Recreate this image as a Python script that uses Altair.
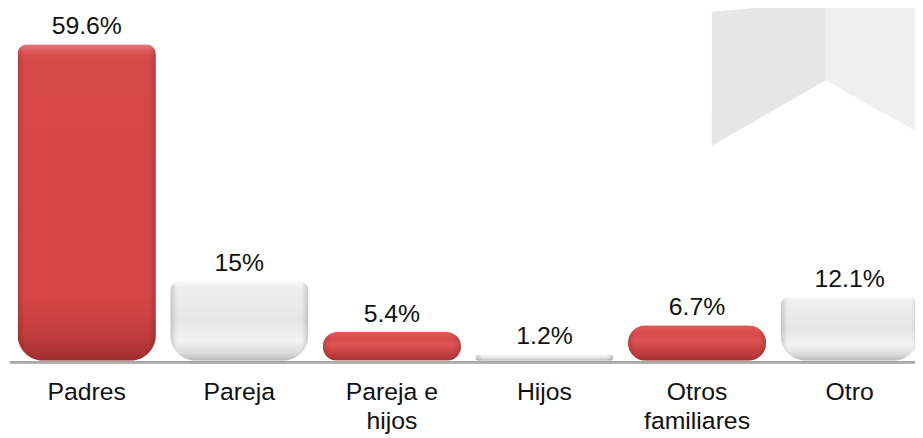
import altair as alt
import pandas as pd

categories = ["Padres", "Pareja", "Pareja e\nhijos", "Hijos", "Otros\nfamiliares", "Otro"]
values = [59.6, 15, 5.4, 1.2, 6.7, 12.1]
value_labels = ["59.6%", "15%", "5.4%", "1.2%", "6.7%", "12.1%"]
tones = ["red", "white", "red", "white", "red", "white"]

df = pd.DataFrame({"cat": categories, "value": values, "label": value_labels, "tone": tones})

# decorative watermark (background logo shape), in pixel space
wm_left = pd.DataFrame({"px": [710, 825], "top": [2, -8], "bot": [137, 71]})
wm_right = pd.DataFrame({"px": [825, 915], "top": [-8, -8], "bot": [71, 122]})

FONT = "Liberation Sans"
xs = alt.Scale(domain=categories, range=[2.5, 926], paddingInner=0.094, paddingOuter=0.047)
ys = alt.Scale(domain=[0, 60], range=[354, 32.6], nice=False, zero=True)
X = alt.X("cat:N", sort=categories, scale=xs, axis=None)
Y = alt.Y("value:Q", scale=ys, axis=None)

def grad(stops, horizontal=False):
    return alt.Gradient(
        gradient="linear",
        stops=[alt.GradientStop(color=c, offset=o) for o, c in stops],
        x1=0, y1=0,
        x2=1 if horizontal else 0,
        y2=0 if horizontal else 1,
    )

red_grad = grad([(0, "#ea7676"), (0.035, "#d84c4c"), (0.07, "#d64747"),
                 (0.8, "#d64646"), (0.92, "#c03c3c"), (1, "#9e2e2e")])
red_pill = grad([(0, "#e05a5a"), (0.2, "#d84b4b"), (0.45, "#dc5252"),
                 (0.7, "#c94242"), (1, "#a33131")])
white_grad = grad([(0, "#fbfbfb"), (0.08, "#eeeeee"), (0.5, "#e6e6e6"),
                   (0.75, "#f3f3f3"), (0.9, "#dcdcdc"), (1, "#b8b8b8")])
white_pill = grad([(0, "#f4f4f4"), (0.5, "#e8e8e8"), (1, "#b5b5b5")])
side_grad = grad([(0, "rgba(0,0,0,0.16)"), (0.05, "rgba(0,0,0,0.0)"),
                  (0.95, "rgba(0,0,0,0.0)"), (1, "rgba(0,0,0,0.16)")], horizontal=True)

tall = dict(cornerRadiusTopLeft=10, cornerRadiusTopRight=10,
            cornerRadiusBottomLeft=26, cornerRadiusBottomRight=26)
short = dict(cornerRadius=20)

base = alt.Chart(df)

def bars(cond, fill, radii):
    return base.transform_filter(cond).mark_bar(color=fill, **radii).encode(x=X, y=Y)

is_tall = alt.datum.value >= 10
is_short = alt.datum.value < 10
is_red = alt.datum.tone == "red"
is_white = alt.datum.tone == "white"

wm1 = alt.Chart(wm_left).mark_area(color="#e6e6e6", interpolate="linear").encode(
    x=alt.X("px:Q", scale=None, axis=None),
    y=alt.Y("top:Q", scale=None, axis=None),
    y2="bot:Q",
)
wm2 = alt.Chart(wm_right).mark_area(color="#efefef", interpolate="linear").encode(
    x=alt.X("px:Q", scale=None, axis=None),
    y=alt.Y("top:Q", scale=None, axis=None),
    y2="bot:Q",
)

rule = base.mark_rule(color="#a8a8a8", strokeWidth=2).encode(
    x=alt.value(2), x2=alt.value(915), y=alt.Y("v:Q", scale=ys, axis=None)
).transform_calculate(v="-0.3")

layers = [
    bars(is_red & is_tall, red_grad, tall),
    bars(is_white & is_tall, white_grad, tall),
    bars(is_red & is_short, red_pill, short),
    bars(is_white & is_short, white_pill, short),
    bars(is_tall, side_grad, tall),
    bars(is_short, side_grad, short),
]

vlabels = base.mark_text(font=FONT, fontSize=25, color="#111111", baseline="alphabetic", dy=-10).encode(
    x=X, y=Y, text="label:N"
)
clabels = base.mark_text(font=FONT, fontSize=25, color="#111111", baseline="top", dy=20,
                         lineBreak="\n", lineHeight=29).encode(
    x=X, y=alt.Y("z:Q", scale=ys, axis=None), text="cat:N"
).transform_calculate(z="0")

chart = alt.layer(wm1, wm2, rule, *layers, vlabels, clabels).resolve_scale(
    x="independent", y="independent"
).properties(
    width=915, height=426, padding=0, autosize=alt.AutoSizeParams(type="none"),
    background="#ffffff",
).configure_view(stroke=None)

chart.save("out.html", embed_options={"renderer": "svg", "actions": False})
